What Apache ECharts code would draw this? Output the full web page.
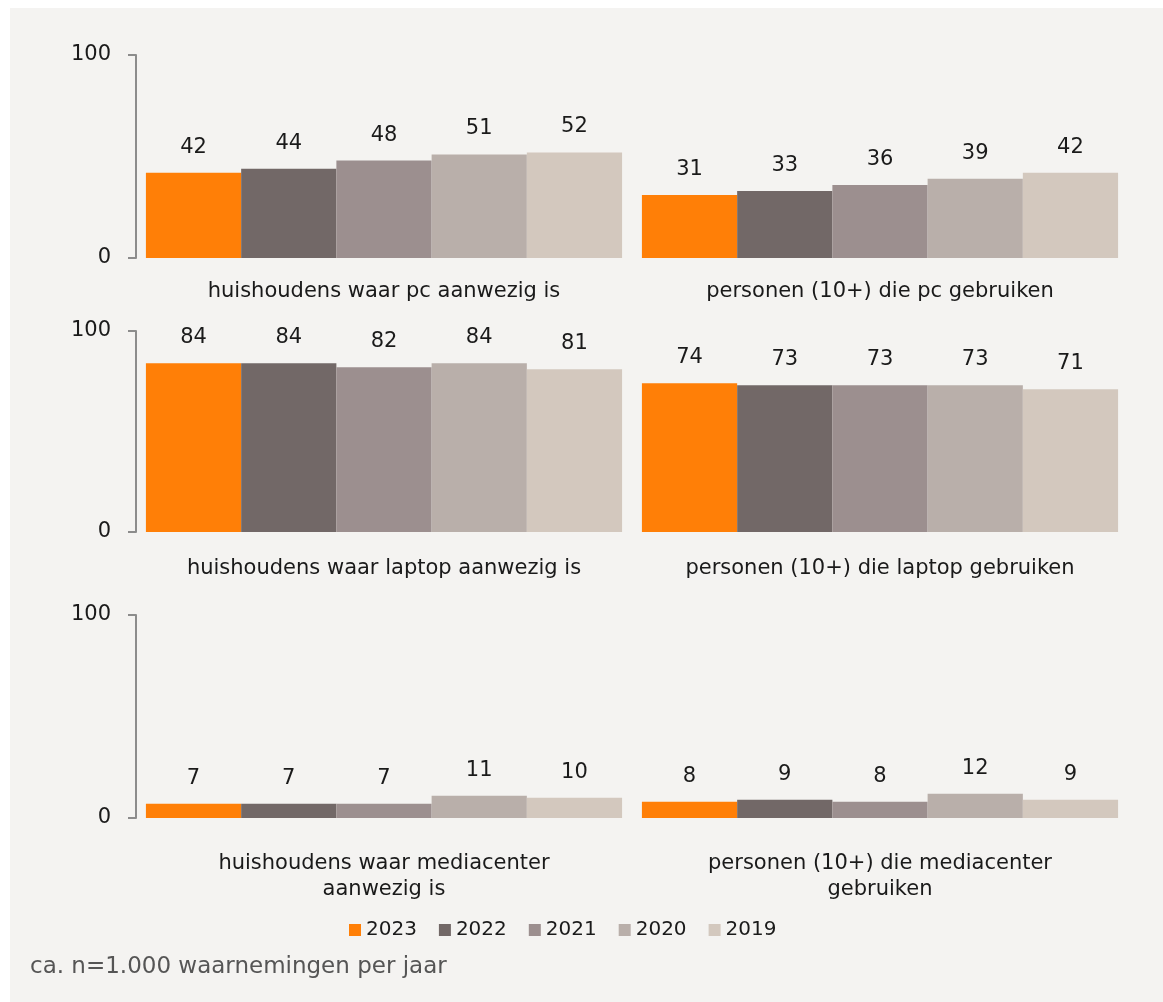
<!DOCTYPE html>
<html><head><meta charset="utf-8">
<script src="https://cdn.jsdelivr.net/npm/echarts@6/dist/echarts.min.js"></script>
<style>html,body{margin:0;padding:0;background:#ffffff;}#c{width:1163px;height:1002px;}</style>
</head><body><div id="c"></div>
<script>
const years = ['2023','2022','2021','2020','2019'];
const colors = ['#FF7F07','#726867','#9C8F8F','#B9AFAA','#D3C8BE'];
const cats1 = ['huishoudens waar pc aanwezig is','personen (10+) die pc gebruiken'];
const cats2 = ['huishoudens waar laptop aanwezig is','personen (10+) die laptop gebruiken'];
const cats3 = ['huishoudens waar mediacenter\naanwezig is','personen (10+) die mediacenter\ngebruiken'];
// values per year: [cat A, cat B]
const pc2023 = [42,31], pc2022 = [44,33], pc2021 = [48,36], pc2020 = [51,39], pc2019 = [52,42];
const lap2023 = [84,74], lap2022 = [84,73], lap2021 = [82,73], lap2020 = [84,73], lap2019 = [81,71];
const mc2023 = [7,8], mc2022 = [7,9], mc2021 = [7,8], mc2020 = [11,12], mc2019 = [10,9];
const yTicks = [0,100];
const footnote = 'ca. n=1.000 waarnemingen per jaar';

const FONT = 'DejaVu Sans';
const panels = [
  {cats:cats1, data:[pc2023,pc2022,pc2021,pc2020,pc2019], top:55, h:203, m:21},
  {cats:cats2, data:[lap2023,lap2022,lap2021,lap2020,lap2019], top:331, h:201, m:24},
  {cats:cats3, data:[mc2023,mc2022,mc2021,mc2020,mc2019], top:615, h:203, m:33}
];
const grid=[], xAxis=[], yAxis=[], series=[];
panels.forEach((p,i)=>{
  grid.push({left:136, right:35, top:p.top, height:p.h});
  xAxis.push({type:'category', gridIndex:i, data:p.cats,
    axisLine:{show:false}, axisTick:{show:false},
    axisLabel:{fontFamily:FONT, fontSize:21, color:'#1a1a1a', margin:p.m, lineHeight:26, interval:0}});
  yAxis.push({type:'value', gridIndex:i, min:yTicks[0], max:yTicks[1], interval:100,
    axisLine:{show:true, lineStyle:{color:'#8c8c8c', width:2}},
    axisTick:{show:true, length:8, lineStyle:{color:'#8c8c8c', width:2}},
    splitLine:{show:false},
    axisLabel:{fontFamily:FONT, fontSize:21, color:'#1a1a1a', margin:25}});
  p.data.forEach((d,k)=>{
    series.push({type:'bar', name:years[k], xAxisIndex:i, yAxisIndex:i, data:d,
      barGap:'0%', barCategoryGap:'4%',
      itemStyle:{color:colors[k]},
      label:{show:true, position:'top', distance:15, fontFamily:FONT, fontSize:21, color:'#1a1a1a'}});
  });
});
const chart = echarts.init(document.getElementById('c'));
chart.setOption({
  backgroundColor:'#ffffff',
  animation:false,
  graphic:[
    {type:'rect', z:-10, shape:{x:10,y:8,width:1153,height:994}, style:{fill:'#F4F3F1'}},
    {type:'text', left:30, top:956, style:{text:footnote, font:'23px "DejaVu Sans"', fill:'#555555'}}
  ],
  color:colors,
  legend:{data:years, top:915, left:344, itemWidth:12, itemHeight:12, itemGap:22, icon:'rect',
    textStyle:{fontFamily:FONT, fontSize:20, color:'#1a1a1a', padding:[0,0,0,0]}},
  grid, xAxis, yAxis, series
});
</script></body></html>
